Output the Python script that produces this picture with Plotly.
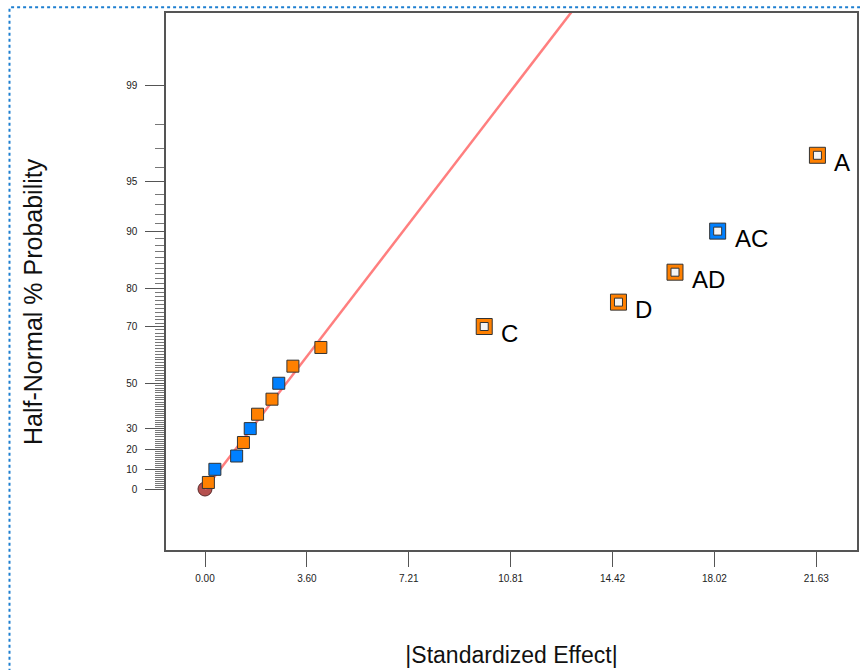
import plotly.graph_objects as go
from statistics import NormalDist

# ---------------- data ----------------
small_effects = [0.12, 0.35, 1.12, 1.36, 1.60, 1.86, 2.37, 2.61, 3.11, 4.10]
small_probs = [3.33, 10.0, 16.67, 23.33, 30.0, 36.67, 43.33, 50.0, 56.67, 63.33]
small_signs = ["+", "-", "-", "+", "-", "+", "+", "-", "+", "+"]

labeled_terms = ["C", "D", "AD", "AC", "A"]
labeled_effects = [9.88, 14.63, 16.63, 18.14, 21.67]
labeled_probs = [70.0, 76.67, 83.33, 90.0, 96.67]
labeled_signs = ["+", "+", "+", "-", "+"]

error_effect = [0.0]
error_prob = [0.0]

line_slope = 0.2346          # half-normal quantile per unit |effect|
line_effect_end = 14.0

x_tick_labels = ["0.00", "3.60", "7.21", "10.81", "14.42", "18.02", "21.63"]
x_tick_max = 21.63
y_major_probs = [0, 10, 20, 30, 50, 70, 80, 90, 95, 99]
y_minor_probs = [p for p in range(1, 99) if p not in y_major_probs]

x_title = "|Standardized Effect|"
y_title = "Half-Normal % Probability"

# ---------------- helpers ----------------
nd = NormalDist()


def hn(p):
    """half-normal probability (%) -> quantile"""
    return nd.inv_cdf(0.5 + p / 200.0)


ORANGE = "#FF8000"
BLUE = "#0080FF"
EDGE = "#333333"


def colors(signs):
    return [ORANGE if s == "+" else BLUE for s in signs]


fig = go.Figure()

# error / origin marker
fig.add_trace(go.Scatter(
    x=error_effect, y=[hn(p) for p in error_prob], mode="markers",
    marker=dict(symbol="circle", size=14, color="#B5504E",
                line=dict(color="#5a2a2a", width=1)),
    showlegend=False, hoverinfo="skip"))

# reference line
fig.add_trace(go.Scatter(
    x=[0.0, line_effect_end], y=[0.0, line_slope * line_effect_end],
    mode="lines", line=dict(color="#FF7F7F", width=2.5),
    showlegend=False, hoverinfo="skip"))

# small effects
fig.add_trace(go.Scatter(
    x=small_effects, y=[hn(p) for p in small_probs], mode="markers",
    marker=dict(symbol="square", size=12, color=colors(small_signs),
                line=dict(color=EDGE, width=1)),
    showlegend=False))

# labeled (selected) effects: coloured ring with white centre
fig.add_trace(go.Scatter(
    x=labeled_effects, y=[hn(p) for p in labeled_probs], mode="markers",
    marker=dict(symbol="square", size=16, color=colors(labeled_signs),
                line=dict(color=EDGE, width=1)),
    showlegend=False))
fig.add_trace(go.Scatter(
    x=labeled_effects, y=[hn(p) for p in labeled_probs], mode="markers",
    marker=dict(symbol="square", size=8, color="#F4F4F4",
                line=dict(color=EDGE, width=1)),
    showlegend=False, hoverinfo="skip"))

for term, ef, pr in zip(labeled_terms, labeled_effects, labeled_probs):
    fig.add_annotation(x=ef, y=hn(pr), text=term, showarrow=False,
                       xanchor="left", yanchor="middle", xshift=15, yshift=-7,
                       font=dict(family="Arial, Liberation Sans", size=24, color="#000"))

# y-axis title (placed slightly below the plot centre, as in the reference)
fig.add_annotation(text=y_title, xref="paper", yref="paper", x=-0.1925, y=0.4637,
                   xanchor="center", yanchor="middle", textangle=-90, showarrow=False,
                   font=dict(family="Arial, Liberation Sans", size=25, color="#111"))

x_tick_vals = [i * x_tick_max / (len(x_tick_labels) - 1) for i in range(len(x_tick_labels))]

fig.update_layout(
    width=860, height=670,
    margin=dict(l=166, r=3, t=13, b=120),
    paper_bgcolor="white", plot_bgcolor="white",
    font=dict(family="Arial, Liberation Sans", color="#222"),
    xaxis=dict(
        range=[-1.38, 23.07], showgrid=False, zeroline=False,
        showline=True, mirror=True, linecolor="#555", linewidth=1.5,
        ticks="outside", ticklen=15, tickwidth=1.2, tickcolor="#555",
        tickmode="array", tickvals=x_tick_vals, ticktext=x_tick_labels,
        tickfont=dict(size=10, color="#222"), ticklabelstandoff=3,
        title=dict(text=x_title, font=dict(size=23, color="#111"), standoff=64),
        automargin=False,
    ),
    yaxis=dict(
        range=[-0.389, 3.036], showgrid=False, zeroline=False,
        showline=True, mirror=True, linecolor="#555", linewidth=1.5,
        ticks="outside", ticklen=19, tickwidth=1.2, tickcolor="#555",
        tickmode="array", tickvals=[hn(p) for p in y_major_probs],
        ticktext=[str(p) for p in y_major_probs],
        tickfont=dict(size=10, color="#222"), ticklabelstandoff=6,
        minor=dict(tickmode="array", tickvals=[hn(p) for p in y_minor_probs],
                   ticks="outside", ticklen=9, tickwidth=1, tickcolor="#777"),
        automargin=False,
    ),
)

# dotted selection border along the chart frame
fig.add_shape(type="rect", xref="paper", yref="paper",
              x0=-0.2265, x1=1.2, y0=-0.5, y1=1.0106,
              line=dict(color="#1E7FD0", width=2, dash="dot"), layer="above")

fig.write_html(
    "out.html",
    config={"displayModeBar": False},
    post_script="document.body.style.margin='0px';document.body.style.overflow='hidden';",
)
